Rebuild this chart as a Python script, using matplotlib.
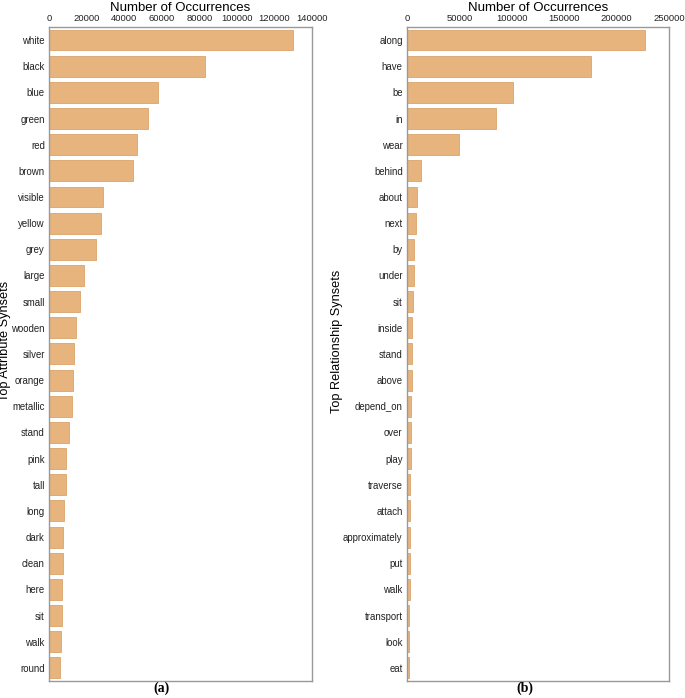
import matplotlib
matplotlib.use("Agg")
import matplotlib.pyplot as plt

plt.rcParams['font.family'] = ['Liberation Sans', 'DejaVu Sans']

attr_names = ['white', 'black', 'blue', 'green', 'red', 'brown', 'visible', 'yellow',
              'grey', 'large', 'small', 'wooden', 'silver', 'orange', 'metallic', 'stand',
              'pink', 'tall', 'long', 'dark', 'clean', 'here', 'sit', 'walk', 'round']
attr_counts = [130100, 82800, 57800, 52700, 47000, 44500, 28500, 27800,
               24900, 18700, 16300, 14200, 13200, 12800, 12100, 10500,
               9300, 8900, 8000, 7700, 7300, 6800, 6800, 6200, 5900]

rel_names = ['along', 'have', 'be', 'in', 'wear', 'behind', 'about', 'next', 'by',
             'under', 'sit', 'inside', 'stand', 'above', 'depend_on', 'over', 'play',
             'traverse', 'attach', 'approximately', 'put', 'walk', 'transport', 'look', 'eat']
rel_counts = [227000, 175500, 101500, 85300, 50100, 13900, 9900, 8600, 6600,
              6600, 5700, 4700, 4700, 4500, 4100, 3500, 3500,
              3400, 3300, 2800, 2800, 2500, 2300, 2200, 2100]

bar_color = '#e8b47e'
edge_color = '#d9a46c'

fig = plt.figure(figsize=(6.85, 6.98), dpi=100)
ax1 = fig.add_axes([0.0715, 0.0244, 0.384, 0.937])
ax2 = fig.add_axes([0.594, 0.0244, 0.383, 0.937])


def draw(ax, names, counts, xmax, ylabel, ylab_x, tag, tagx):
    ax.barh(range(len(names)), counts, height=0.8, color=bar_color,
            edgecolor=edge_color, linewidth=0.6)
    ax.set_yticks(range(len(names)))
    ax.set_yticklabels(names)
    ax.set_ylim(len(names) - 0.5, -0.5)
    ax.set_xlim(0, xmax)
    ax.xaxis.tick_top()
    ax.xaxis.set_label_position('top')
    ax.tick_params(axis='y', length=0, labelsize=6.9, pad=3, colors='#222222')
    ax.tick_params(axis='x', length=0, labelsize=6.8, pad=3, colors='#222222')
    ax.set_xlabel('Number of Occurrences', fontsize=9.5)
    ax.xaxis.set_label_coords(0.5, 1.024)
    ax.set_ylabel(ylabel, fontsize=9.2)
    ax.yaxis.set_label_coords(ylab_x, 0.52)
    for s in ax.spines.values():
        s.set_color('#999999')
        s.set_linewidth(1.0)
    fig.text(tagx, 0.004, tag, fontsize=10, fontweight='bold',
             family='Liberation Serif', ha='center', va='bottom')


draw(ax1, attr_names, attr_counts, 140000, 'Top Attribute Synsets', -0.143, '(a)', 161 / 685)
draw(ax2, rel_names, rel_counts, 250000, 'Top Relationship Synsets', -0.245, '(b)', 525 / 685)
ax1.set_xticks([0, 20000, 40000, 60000, 80000, 100000, 120000, 140000])
ax2.set_xticks([0, 50000, 100000, 150000, 200000, 250000])

fig.savefig('out.png', dpi=100)
